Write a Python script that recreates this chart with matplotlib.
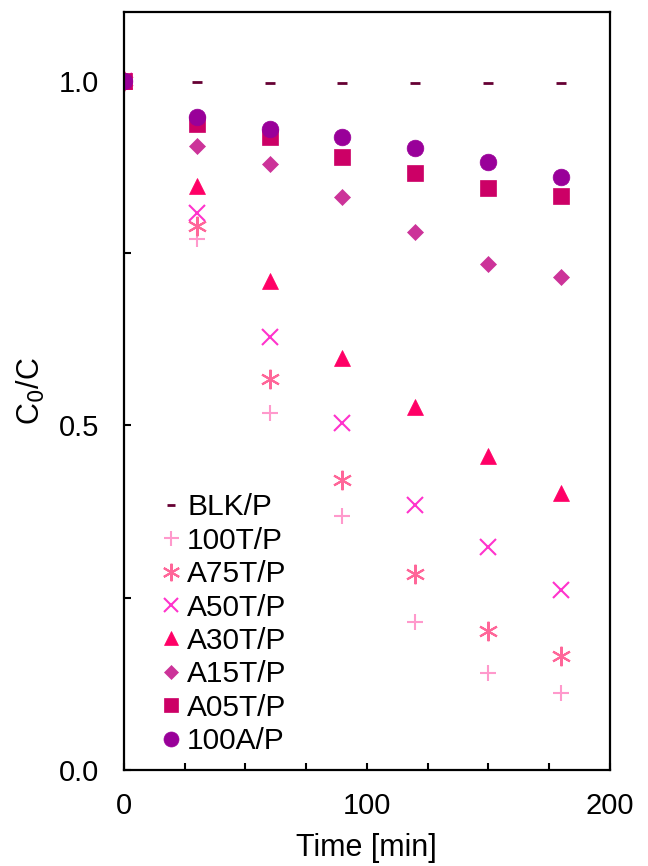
import matplotlib
matplotlib.use("Agg")
import matplotlib.pyplot as plt

plt.rcParams['font.family'] = ['Liberation Sans', 'DejaVu Sans']

time = [0, 30, 60, 90, 120, 150, 180]
labels = ["BLK/P", "100T/P", "A75T/P", "A50T/P", "A30T/P", "A15T/P", "A05T/P", "100A/P"]
blk = [1.0, 0.999, 0.997, 0.997, 0.997, 0.997, 0.997]
t100 = [1.0, 0.770, 0.518, 0.368, 0.215, 0.141, 0.112]
a75t = [1.0, 0.790, 0.568, 0.421, 0.284, 0.202, 0.165]
a50t = [1.0, 0.808, 0.629, 0.504, 0.385, 0.323, 0.261]
a30t = [1.0, 0.847, 0.710, 0.598, 0.527, 0.455, 0.402]
a15t = [1.0, 0.906, 0.879, 0.832, 0.781, 0.735, 0.715]
a05t = [1.0, 0.938, 0.918, 0.890, 0.867, 0.844, 0.833]
a100 = [1.0, 0.948, 0.930, 0.919, 0.903, 0.882, 0.860]

series = [blk, t100, a75t, a50t, a30t, a15t, a05t, a100]
styles = [
    dict(marker='_', color='#660033', ms=7, mew=2.0),
    dict(marker='+', color='#ff99cc', ms=12, mew=1.5),
    dict(marker=(6, 2, 0), color='#ff6699', ms=14, mew=1.5),
    dict(marker='x', color='#ff33cc', ms=11.5, mew=1.5),
    dict(marker='^', color='#ff0066', ms=11, mew=0.5),
    dict(marker='D', color='#cc3399', ms=8, mew=0.5),
    dict(marker='s', color='#cc0066', ms=11.5, mew=0.5),
    dict(marker='o', color='#990099', ms=12, mew=0.5),
]

fig = plt.figure(figsize=(6.48, 8.66), dpi=100)
ax = fig.add_axes([0.191, 0.111, 0.75, 0.875])

for lab, ys, st in zip(labels, series, styles):
    ax.plot(time, ys, linestyle='none', marker=st['marker'], color=st['color'],
            markersize=st['ms'], markeredgewidth=st['mew'],
            markeredgecolor=st['color'], label=lab)

ax.set_xlim(0, 200)
ax.set_ylim(0, 1.1)
ax.set_xticks([0, 100, 200])
ax.set_xticks([25, 50, 75, 125, 150, 175], minor=True)
ax.set_yticks([0.0, 0.5, 1.0])
ax.set_yticks([0.25, 0.75], minor=True)
ax.set_xticklabels(['0', '100', '200'])
ax.set_yticklabels(['0.0', '0.5', '1.0'])
ax.tick_params(axis='both', which='both', direction='in', length=5, width=1.5,
               labelsize=21, top=False, right=False)
ax.tick_params(axis='y', which='both', pad=18)
ax.tick_params(axis='x', which='both', pad=16)
for sp in ax.spines.values():
    sp.set_linewidth(1.6)

ax.set_xlabel('Time [min]', fontsize=22, labelpad=9)
ax.set_ylabel('C$_0$/C', fontsize=22, labelpad=8)

leg = ax.legend(loc='lower left', bbox_to_anchor=(0.035, -0.008), frameon=False,
                fontsize=21.5, handlelength=0.6, handletextpad=0.25,
                labelspacing=0.18, borderaxespad=0.3, markerscale=0.9)

fig.savefig('out.png', dpi=100)
